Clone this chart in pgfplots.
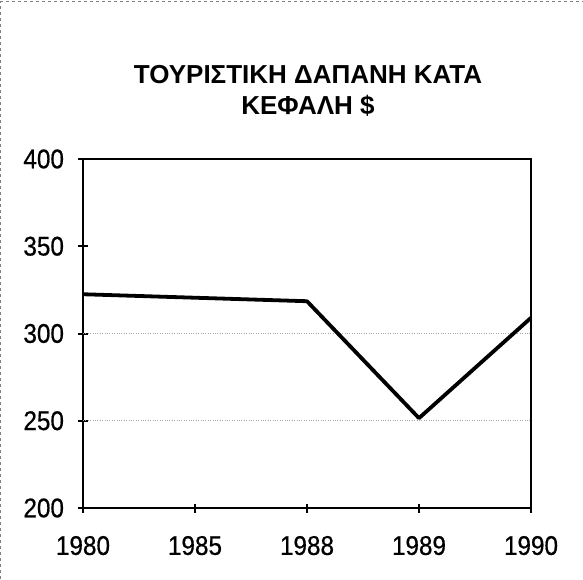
\documentclass[border=0pt]{standalone}
\usepackage{pgfplots}
\pgfplotsset{compat=1.18}
\usepackage{fontspec}
\setmainfont{Liberation Sans}
\newfontfamily\tickfont[FakeStretch=0.9,FakeBold=0.6]{Liberation Sans}
\begin{document}
\begin{tikzpicture}[x=1pt,y=1pt]
\path[use as bounding box] (-83,-71) rectangle (500,508);
\draw[gray, dashed, line width=1pt] (-82,-71) -- (-82,506) -- (500,506);
\begin{axis}[scale only axis,
  width=448pt, height=349pt,
  xmin=0, xmax=4, ymin=200, ymax=400,
  xtick={0,...,4}, xticklabels={1980,1985,1988,1989,1990},
  ytick={200,250,...,400},
  extra y ticks={250,300}, extra y tick labels={},
  extra y tick style={grid=major, major tick length=0pt},
  grid style={gray!70, dotted, line width=0.8pt},
  axis line style={line width=2.8pt},
  tick style={line width=2pt, black},
  major tick length=9pt, tick align=center,
  xtick pos=bottom, ytick pos=left,
  ticklabel style={font=\tickfont\fontsize{27}{27}\selectfont},
  /pgf/number format/assume math mode=true,
  yticklabel style={xshift=-11pt},
  xticklabel style={yshift=-20pt},
]
\addplot[line width=3.8pt, black, line join=round] coordinates {(0,322.5)(1,320.5)(2,318.5)(3,251.5)(4,309)};
\end{axis}
\node[anchor=base, font=\bfseries\fontsize{26}{26}\selectfont] at (225,424) {ΤΟΥΡΙΣΤΙΚΗ ΔΑΠΑΝΗ ΚΑΤΑ};
\node[anchor=base, font=\bfseries\fontsize{26}{26}\selectfont] at (225,393) {ΚΕΦΑΛΗ \$};
\end{tikzpicture}
\end{document}
